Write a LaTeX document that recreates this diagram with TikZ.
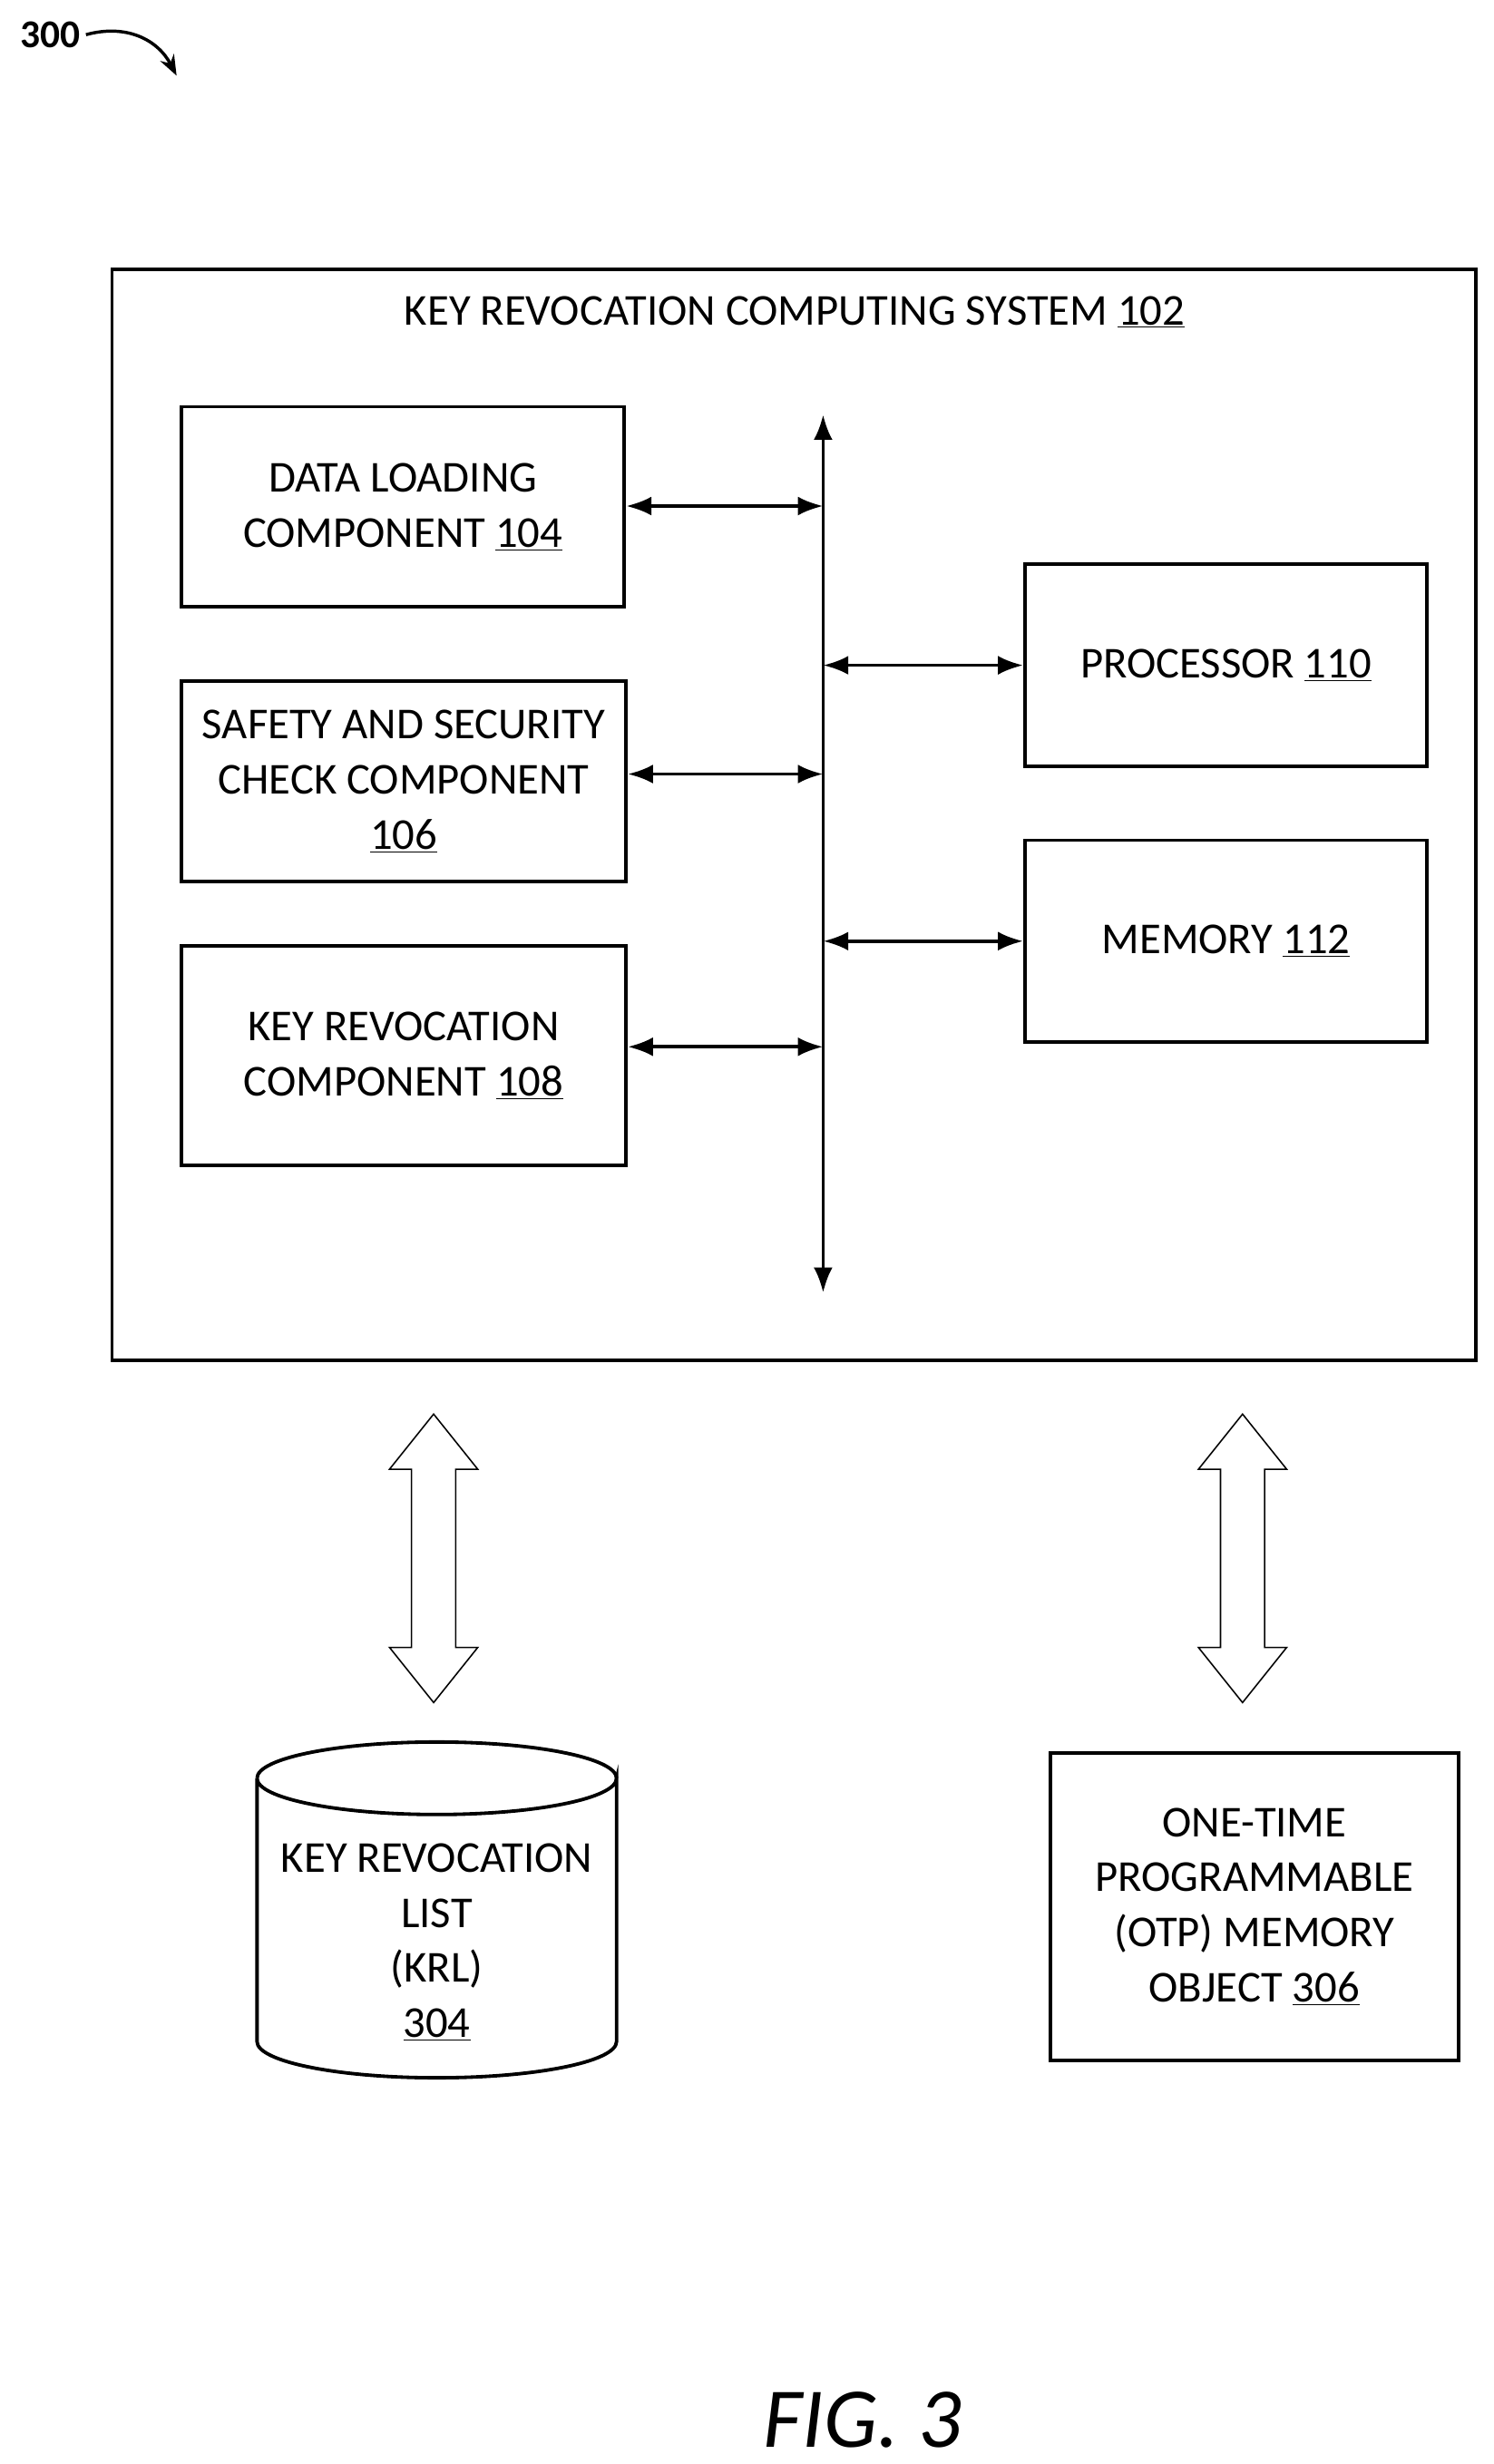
\documentclass[tikz,border=0pt]{standalone}
\usepackage{fontspec}
\setmainfont{Carlito}
\usetikzlibrary{arrows.meta,positioning,calc}

\tikzset{
  box/.style={draw, line width=2.2pt, align=center, inner sep=0pt},
  link/.style={line width=2.2pt, {Latex[length=16pt,width=12pt]}-{Latex[length=16pt,width=12pt]}},
  hollow/.style={draw, line width=0.9pt, fill=white}
}
\newcommand{\refno}[1]{\underline{#1}}

\begin{document}
\begin{tikzpicture}[x=1pt, y=-1pt, font=\fontsize{28}{35}\selectfont]
\useasboundingbox (0,0) rectangle (947,1563);
% label and pointer
\node (lab) at (32,22) {\bfseries\fontsize{25}{28}\selectfont 300};
\coordinate (tip) at (112,48);
\draw[line width=2pt, -{Stealth[length=13pt]}] (lab.east) .. controls (80,15) and (100,25) .. (tip);
% outer system
\draw[line width=2.2pt] (71,171) rectangle (936,863);
\node (sys) at (504,198) {KEY REVOCATION COMPUTING SYSTEM \refno{102}};
% components
\node[box, minimum width=281pt, minimum height=127pt] (load) at (255.5,321.5) {DATA LOADING\\COMPONENT \refno{104}};
\node[box, minimum width=282pt, minimum height=127pt] (safe) at (256,495.5) {SAFETY AND SECURITY\\CHECK COMPONENT\\\refno{106}};
\node[box, minimum width=282pt, minimum height=139pt] (krc) at (256,669.5) {KEY REVOCATION\\COMPONENT \refno{108}};
\node[box, minimum width=255pt, minimum height=128pt] (proc) at (777.5,422) {PROCESSOR \refno{110}};
\node[box, minimum width=255pt, minimum height=128pt] (mem) at (777.5,597) {MEMORY \refno{112}};
% bus
\coordinate (bt) at (522,263);
\coordinate (bb) at (522,820);
\draw[link] (bt) -- (bb);
\draw[link] (load.east |- 0,321) -- (522,321);
\draw[link] (safe.east |- 0,491) -- (522,491);
\draw[link] (krc.east |- 0,664) -- (522,664);
\draw[link] (522,422) -- (proc.west |- 0,422);
\draw[link] (522,597) -- (mem.west |- 0,597);
% hollow arrows
\foreach \cx in {275,788}{
  \draw[hollow] (\cx,897) -- (\cx+28,932) -- (\cx+14,932) -- (\cx+14,1045) -- (\cx+28,1045)
    -- (\cx,1080) -- (\cx-28,1045) -- (\cx-14,1045) -- (\cx-14,932) -- (\cx-28,932) -- cycle;
}
% KRL store
\draw[line width=2.2pt] (163,1128) -- (163,1295) arc[start angle=180, end angle=0, x radius=114, y radius=23]
  -- (391,1128) arc[start angle=0, end angle=180, x radius=114, y radius=23];
\draw[line width=2.2pt] (163,1128) arc[start angle=180, end angle=360, x radius=114, y radius=23];
\node[align=center] (krl) at (277,1232) {KEY REVOCATION\\LIST\\(KRL)\\\refno{304}};
% OTP
\node[box, minimum width=259pt, minimum height=195pt] (otp) at (795.5,1209.5) {ONE-TIME\\PROGRAMMABLE\\(OTP) MEMORY\\OBJECT \refno{306}};
% caption
\node (fig) at (547,1535) {\itshape\fontsize{54}{60}\selectfont FIG. 3};
\end{tikzpicture}
\end{document}
